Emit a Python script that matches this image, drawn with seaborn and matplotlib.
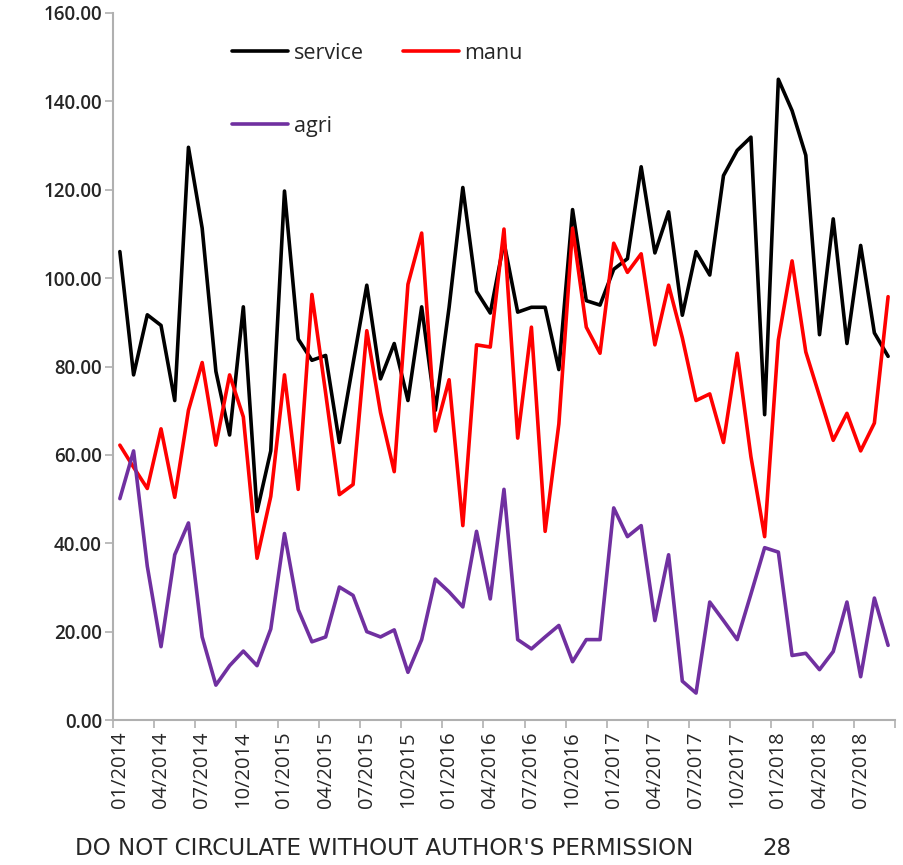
import matplotlib
matplotlib.use("Agg")
import matplotlib.pyplot as plt
from matplotlib.lines import Line2D
import numpy as np
import pandas as pd
import seaborn as sns

# monthly series, 01/2014 .. 09/2018
months = pd.date_range("2014-01-01", "2018-09-01", freq="MS").strftime("%m/%Y").tolist()

service = [106.0, 78.1, 91.7, 89.3, 72.3, 129.6, 111.3, 78.9, 64.5, 93.5,
           47.2, 60.9, 119.7, 86.2, 81.4, 82.5, 62.8, 80.7, 98.4, 77.2,
           85.2, 72.3, 93.5, 70.1, 93.4, 120.5, 97.0, 92.1, 108.1, 92.3,
           93.4, 93.4, 79.3, 115.5, 94.9, 93.9, 102.0, 104.4, 125.2, 105.7,
           115.0, 91.6, 106.0, 100.7, 123.2, 128.9, 131.9, 69.1, 145.0, 137.9,
           127.8, 87.2, 113.4, 85.2, 107.4, 87.6, 82.3]
manu = [62.2, 57.2, 52.4, 65.9, 50.4, 70.1, 80.9, 62.2, 78.1, 68.6,
        36.6, 50.6, 78.1, 52.2, 96.3, 74.0, 51.0, 53.3, 88.1, 69.6,
        56.2, 98.6, 110.2, 65.4, 77.0, 44.0, 84.9, 84.4, 111.1, 63.8,
        88.9, 42.7, 67.0, 111.3, 88.9, 83.0, 107.9, 101.3, 105.5, 84.9,
        98.4, 86.5, 72.3, 73.8, 62.8, 83.0, 59.6, 41.5, 86.0, 103.9,
        83.3, 73.3, 63.3, 69.4, 60.9, 67.2, 95.8]
agri = [50.1, 60.9, 34.8, 16.6, 37.4, 44.6, 18.8, 7.9, 12.3, 15.6,
        12.3, 20.6, 42.2, 25.0, 17.7, 18.8, 30.1, 28.2, 20.0, 18.8,
        20.4, 10.8, 18.2, 31.9, 29.0, 25.6, 42.7, 27.4, 52.2, 18.2,
        16.1, 18.8, 21.4, 13.2, 18.2, 18.2, 48.0, 41.5, 44.0, 22.5,
        37.4, 8.8, 6.1, 26.7, 22.5, 18.2, 28.5, 39.0, 38.0, 14.6,
        15.1, 11.4, 15.5, 26.7, 9.8, 27.6, 16.9]

series_names = ["service", "manu", "agri"]
colors = {"service": "#000000", "manu": "#ff0000", "agri": "#7030a0"}

df = pd.DataFrame({"idx": np.arange(len(months)), "service": service,
                   "manu": manu, "agri": agri})
long = df.melt(id_vars="idx", var_name="series", value_name="value")

sns.set_style("white")
plt.rcParams["font.family"] = ["Open Sans", "DejaVu Sans"]

fig = plt.figure(figsize=(9.04, 8.65), dpi=100)
ax = fig.add_axes([0.125, 0.1676, 0.865, 0.8174])

sns.lineplot(data=long, x="idx", y="value", hue="series", hue_order=series_names,
             palette=colors, linewidth=2.6, ax=ax, legend=False)

ax.set_xlim(-0.5, len(months) - 0.5)
ax.set_ylim(0, 160)
ax.set_yticks(np.arange(0, 161, 20))
ax.set_yticklabels([f"{v:.2f}" for v in np.arange(0, 161, 20)], fontsize=13.5,
                   fontweight="semibold")

label_pos = np.arange(0, len(months), 3)
ax.set_xticks(np.arange(-0.5, len(months), 3))
ax.set_xticklabels([])
ax.set_xticks(label_pos, minor=True)
ax.set_xticklabels([months[i] for i in label_pos], minor=True, rotation=90,
                   fontsize=14.5)
ax.tick_params(axis="x", which="minor", length=0, pad=8)
ax.tick_params(axis="both", which="major", length=6, color="#b0b0b0", width=1.2,
               direction="out")
ax.tick_params(axis="x", which="major", bottom=True)
ax.tick_params(axis="y", left=True, pad=2)
ax.set_xlabel("")
ax.set_ylabel("")

for s in ["top", "right"]:
    ax.spines[s].set_visible(False)
for s in ["left", "bottom"]:
    ax.spines[s].set_color("#b0b0b0")
    ax.spines[s].set_linewidth(1.5)

# legend: service/manu on the first row, agri below service
order = ["service", "agri", "manu"]
handles = [Line2D([], [], color=colors[n], linewidth=2.6) for n in order]
leg = ax.legend(handles, order, ncol=2, loc="upper left",
                bbox_to_anchor=(0.128, 0.985), frameon=False, fontsize=15.5,
                handlelength=2.6, handletextpad=0.25, columnspacing=1.8,
                labelspacing=2.4)

fig.text(0.083, 0.012, "DO NOT CIRCULATE WITHOUT AUTHOR'S PERMISSION",
         fontsize=16.6, family=["Liberation Sans Narrow", "DejaVu Sans"])
fig.text(0.843, 0.012, "28", fontsize=16.6, family=["Liberation Sans Narrow", "DejaVu Sans"])

fig.savefig("out.png", dpi=100)
